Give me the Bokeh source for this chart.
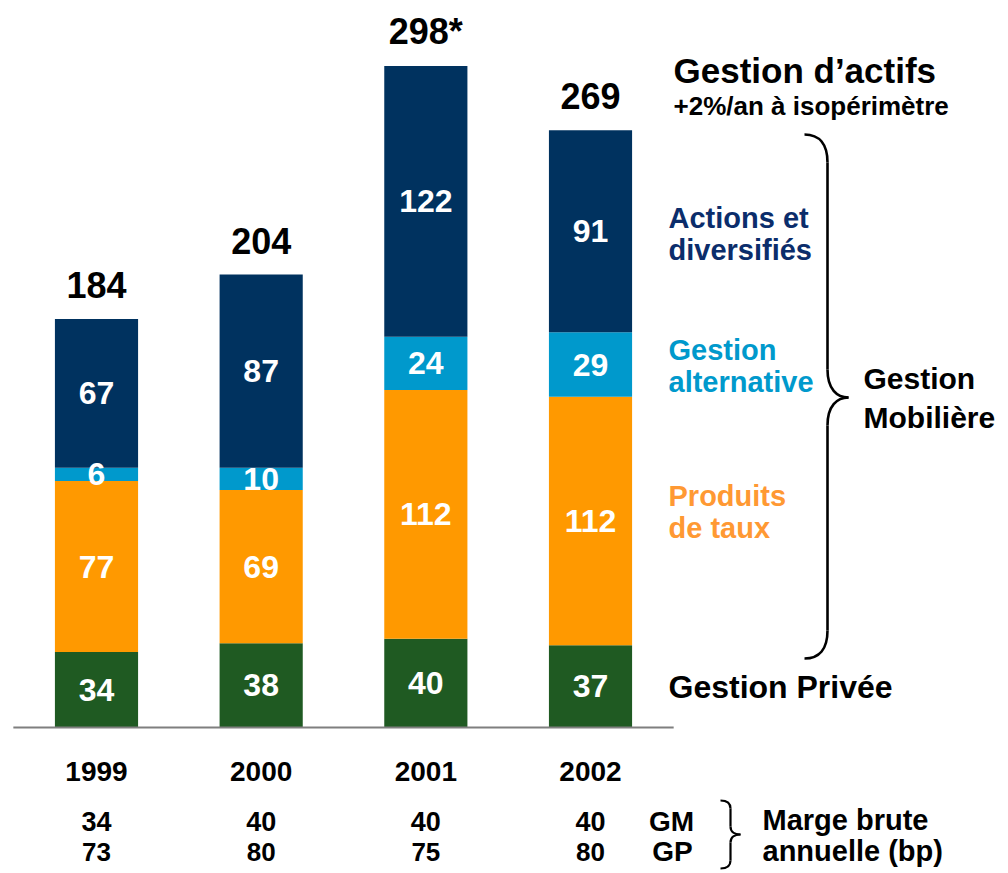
from bokeh.plotting import figure
from bokeh.models import ColumnDataSource, Range1d
from bokeh.embed import file_html
from bokeh.resources import INLINE
from bokeh.core.properties import value

# ---------------- data ----------------
years = ["1999", "2000", "2001", "2002"]
gestion_privee = [34, 38, 40, 37]
produits_taux = [77, 69, 112, 112]
gestion_alt = [6, 10, 24, 29]
actions = [67, 87, 122, 91]
total_suffix = ["", "", "*", ""]
marge_gm = [34, 40, 40, 40]
marge_gp = [73, 80, 75, 80]

series = ["gp", "taux", "alt", "act"]
series_values = [gestion_privee, produits_taux, gestion_alt, actions]
colors = ["#1F5A22", "#FF9900", "#0099CC", "#00325F"]

FONT = value("Liberation Sans")

# ---------------- figure / scales ----------------
W, H = 1005, 870
PX_X = 164.67       # pixels per category step
PX_Y = 2.22         # pixels per unit
X0 = -96 / PX_X
Y1 = 727 / PX_Y

p = figure(width=W, height=H, output_backend="svg", toolbar_location=None,
           x_range=Range1d(X0, X0 + W / PX_X), y_range=Range1d(Y1 - H / PX_Y, Y1),
           min_border=0)
p.xaxis.visible = False
p.yaxis.visible = False
p.xgrid.visible = False
p.ygrid.visible = False
p.outline_line_color = None
p.background_fill_color = "white"
p.border_fill_color = "white"


def sx(px):  # screen px -> data x (annotations only)
    return (px - 96) / PX_X


def sy(py):  # screen px -> data y (annotations only)
    return (727 - py) / PX_Y


xs = list(range(len(years)))
data = {"x": xs}
for name, vals in zip(series, series_values):
    data[name] = vals
src = ColumnDataSource(data)
p.vbar_stack(series, x="x", width=0.505, color=colors, line_color=None, source=src)

# baseline
p.segment(x0=[-0.505], y0=[0], x1=[len(years) - 0.495], y1=[0], line_color="#7F7F7F", line_width=2)

# segment labels
lx, ly, lt = [], [], []
for i in xs:
    base = 0
    for vals in series_values:
        v = vals[i]
        lx.append(i)
        ly.append(base + v / 2)
        lt.append(str(v))
        base += v
p.text(x=lx, y=ly, text=lt, text_align="center", text_baseline="middle",
       text_color="white", text_font=FONT, text_font_style="bold", text_font_size="32px")

# totals
tot = [sum(v[i] for v in series_values) for i in xs]
p.text(x=xs, y=tot, text=[f"{t}{s}" for t, s in zip(tot, total_suffix)], y_offset=-34,
       text_align="center", text_baseline="middle", text_color="black",
       text_font=FONT, text_font_style="bold", text_font_size="36px")

# year labels and margins
p.text(x=xs, y=[sy(771)] * len(xs), text=years, text_align="center", text_baseline="middle",
       text_color="black", text_font=FONT, text_font_style="bold", text_font_size="28px")
p.text(x=xs, y=[sy(821)] * len(xs), text=[str(v) for v in marge_gm], text_align="center",
       text_baseline="middle", text_color="black", text_font=FONT, text_font_style="bold",
       text_font_size="27px")
p.text(x=xs, y=[sy(851)] * len(xs), text=[str(v) for v in marge_gp], text_align="center",
       text_baseline="middle", text_color="black", text_font=FONT, text_font_style="bold",
       text_font_size="26px")
p.text(x=[sx(671), sx(672)], y=[sy(821), sy(851)], text=["GM", "GP"], text_align="center",
       text_baseline="middle", text_color="black", text_font=FONT, text_font_style="bold",
       text_font_size="28px")
p.text(x=[sx(762), sx(762)], y=[sy(819), sy(850)], text=["Marge brute", "annuelle (bp)"],
       text_align="left", text_baseline="middle", text_color="black", text_font=FONT,
       text_font_style="bold", text_font_size="29px")

# right-side labels
p.text(x=[sx(673)], y=[sy(70)], text=["Gestion d\u2019actifs"], text_align="left",
       text_baseline="middle", text_color="black", text_font=FONT, text_font_style="bold",
       text_font_size="35px")
p.text(x=[sx(673)], y=[sy(105)], text=["+2%/an \u00e0 isop\u00e9rim\u00e8tre"], text_align="left",
       text_baseline="middle", text_color="black", text_font=FONT, text_font_style="bold",
       text_font_size="26px")

cat_lines = [
    (["Actions et", "diversifi\u00e9s"], "#0B2D6B", 233),
    (["Gestion", "alternative"], "#0099CC", 365),
    (["Produits", "de taux"], "#FF9933", 511),
]
for lines, col, cy in cat_lines:
    p.text(x=[sx(668)] * 2, y=[sy(cy - 16), sy(cy + 16)], text=lines, text_align="left",
           text_baseline="middle", text_color=col, text_font=FONT, text_font_style="bold",
           text_font_size="29px")
p.text(x=[sx(668)], y=[sy(686)], text=["Gestion Priv\u00e9e"], text_align="left",
       text_baseline="middle", text_color="black", text_font=FONT, text_font_style="bold",
       text_font_size="32px")
p.text(x=[sx(863)] * 2, y=[sy(378), sy(417)], text=["Gestion", "Mobili\u00e8re"], text_align="left",
       text_baseline="middle", text_color="black", text_font=FONT, text_font_style="bold",
       text_font_size="30px")


# braces (annotations, screen-derived)
def brace(xl, xm, xt, yt, ytip, yb, r, lw):
    segs = [
        ((xl, yt), (xl + (xm - xl) * 0.65, yt), (xm, yt + r * 0.35), (xm, yt + r)),
        ((xm, ytip - r), (xm, ytip - r * 0.3), (xm + (xt - xm) * 0.45, ytip), (xt, ytip)),
        ((xt, ytip), (xm + (xt - xm) * 0.45, ytip), (xm, ytip + r * 0.3), (xm, ytip + r)),
        ((xm, yb - r), (xm, yb - r * 0.35), (xl + (xm - xl) * 0.65, yb), (xl, yb)),
    ]
    p.bezier(x0=[sx(s[0][0]) for s in segs], y0=[sy(s[0][1]) for s in segs],
             cx0=[sx(s[1][0]) for s in segs], cy0=[sy(s[1][1]) for s in segs],
             cx1=[sx(s[2][0]) for s in segs], cy1=[sy(s[2][1]) for s in segs],
             x1=[sx(s[3][0]) for s in segs], y1=[sy(s[3][1]) for s in segs],
             line_color="black", line_width=lw)
    p.segment(x0=[sx(xm), sx(xm)], y0=[sy(yt + r), sy(ytip + r)],
              x1=[sx(xm), sx(xm)], y1=[sy(ytip - r), sy(yb - r)],
              line_color="black", line_width=lw)


brace(804, 827, 848, 134, 397, 658, 28, 2.6)
brace(720, 730, 740, 800, 834, 868, 8, 2.2)

open("out.html", "w").write(file_html(p, INLINE))
